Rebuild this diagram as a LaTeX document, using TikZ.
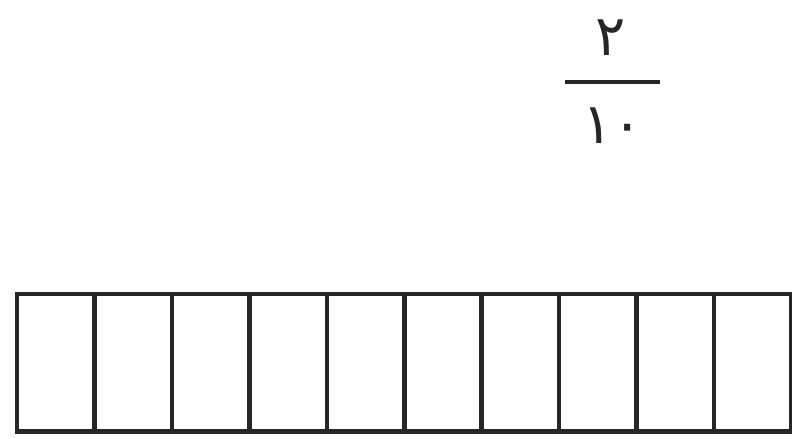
\documentclass[tikz,border=0pt]{standalone}
\usepackage{fontspec}
\newfontfamily\arabicfont[Script=Arabic]{DejaVu Sans}
\usetikzlibrary{positioning}
\begin{document}
\begin{tikzpicture}[x=0.025cm, y=-0.025cm,
  digit/.style={font=\arabicfont\fontsize{40}{40}\selectfont, text=black!85, inner sep=0pt},
  cell/.style={rectangle, draw=black!85, line width=3.2pt, minimum width=1.9375cm,
               minimum height=3.425cm, inner sep=0pt, anchor=north west}
]
  \useasboundingbox (0,0) rectangle (792,439);

  % fraction 2/10
  \node[digit] (num) at (611,38) {٢};
  \node[digit] (den) at (613,126) {١٠};
  \coordinate (barL) at (565,82);
  \coordinate (barR) at (660,82);
  \draw[line width=3pt, black!85] (barL) -- (barR);

  % strip of ten parts
  \foreach \i in {0,...,9}
    \node[cell] (cell\i) at ({15+77.4*\i},292) {};
\end{tikzpicture}
\end{document}
